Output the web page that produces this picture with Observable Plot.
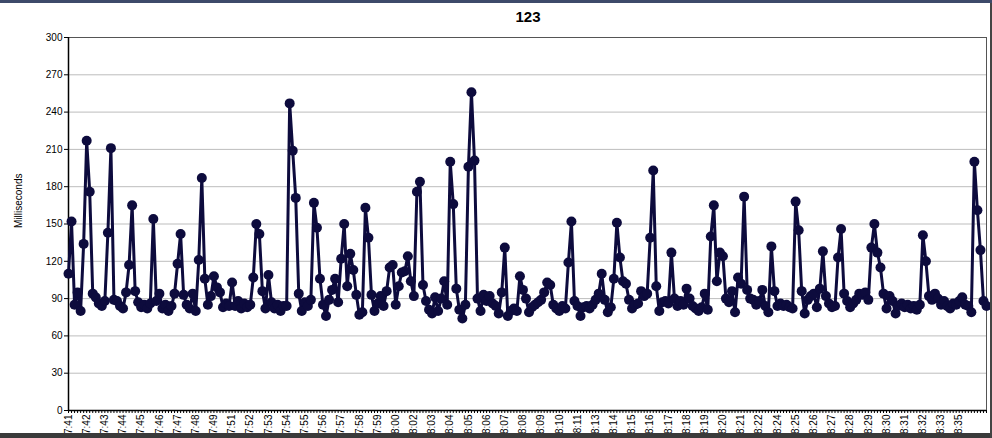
<!DOCTYPE html>
<html>
<head>
<meta charset="utf-8">
<script src="https://cdn.jsdelivr.net/npm/d3@7"></script>
<script src="https://cdn.jsdelivr.net/npm/@observablehq/plot@0.6"></script>
<style>
  html, body { margin: 0; padding: 0; background: #fff; width: 992px; height: 438px; overflow: hidden; position: relative; font-family: "Liberation Sans", Arial, sans-serif; }
  #topbar { position: absolute; left: 0; top: 0; width: 992px; height: 3px; background: #3d4a6a; }
  #title { position: absolute; top: 8px; left: 528px; transform: translateX(-50%); font-size: 15px; font-weight: bold; color: #000; }
  #chart { position: absolute; left: 0; top: 28px; }
  #bottombar { position: absolute; left: 0; bottom: 0; width: 992px; height: 5px; background: #3a3a3a; }
  #rightbar { position: absolute; right: 0; top: 3px; width: 2px; height: 435px; background: #444; }
</style>
</head>
<body>
<div id="topbar"></div>
<div id="title">123</div>
<div id="chart"></div>
<div id="bottombar"></div>
<div id="rightbar"></div>
<script>
const title = "123";
const yLabel = "Milliseconds";
const yTicks = [0, 30, 60, 90, 120, 150, 180, 210, 240, 270, 300];
const tickLabels = ["7:41","7:42","7:43","7:44","7:45","7:46","7:47","7:48","7:49","7:51",
  "7:52","7:53","7:54","7:55","7:56","7:57","7:58","7:59","8:00","8:02",
  "8:03","8:04","8:05","8:06","8:07","8:08","8:09","8:10","8:11","8:13",
  "8:14","8:15","8:16","8:17","8:18","8:19","8:20","8:21","8:22","8:24",
  "8:25","8:26","8:27","8:28","8:29","8:30","8:31","8:32","8:33","8:35"];
const labelEvery = 6;
const values = [
  110,152,85,95,80,134,217,176,94,91,
  86,84,88,143,211,89,88,84,82,95,
  117,165,96,87,83,85,82,86,154,88,
  94,82,85,80,84,94,118,142,93,85,
  82,94,80,121,187,106,85,92,108,99,
  95,83,86,84,103,84,88,82,86,83,
  85,107,150,142,96,82,109,87,82,85,
  80,84,84,247,209,171,94,80,87,84,
  89,167,147,106,85,76,89,97,106,87,
  122,150,100,126,113,93,77,79,163,139,
  93,80,86,92,84,96,115,117,85,100,
  111,112,124,104,92,176,184,101,88,81,
  78,91,80,90,104,85,200,166,98,81,
  74,85,196,256,201,90,80,93,88,92,
  86,84,78,95,131,76,80,82,80,108,
  97,90,79,83,85,87,89,95,103,101,
  85,82,80,84,82,119,152,88,84,76,
  83,84,82,85,89,94,110,89,79,83,
  106,151,123,104,102,89,82,85,86,96,
  92,94,139,193,100,80,87,88,86,127,
  90,84,88,85,98,90,84,82,80,83,
  94,81,140,165,104,127,124,90,87,96,
  79,107,102,172,97,90,89,85,88,97,
  84,79,132,96,84,86,84,85,83,82,
  168,145,96,78,89,92,94,83,98,128,
  92,86,83,84,123,146,94,88,83,86,
  89,94,93,95,89,131,150,127,115,94,
  82,92,88,78,84,86,83,85,82,84,
  81,85,141,120,92,89,94,90,85,88,
  84,82,86,85,88,91,85,84,79,200,
  161,129,88,84
];
const lineColor = "#0d0b3d";
const idx = values.map((_, i) => i);
const labelIdx = tickLabels.map((_, k) => k * labelEvery);

const chart = Plot.plot({
  width: 992,
  height: 410,
  marginLeft: 68,
  marginRight: 6,
  marginTop: 9,
  marginBottom: 28,
  style: { fontFamily: "'Liberation Sans', Arial, sans-serif", fontSize: "10px", color: "#000", background: "#fff" },
  x: { domain: [0, values.length - 1], axis: null },
  y: { domain: [0, 300], axis: null },
  marks: [
    Plot.gridY(yTicks, { stroke: "#bdbdbd", strokeOpacity: 1, strokeWidth: 1 }),
    Plot.frame({ stroke: "#555", strokeWidth: 1 }),
    Plot.ruleY([0], { stroke: "#000", strokeWidth: 1.5 }),
    Plot.ruleX([0], { stroke: "#000", strokeWidth: 1.5 }),
    Plot.axisY(yTicks, { tickSize: 4, tickPadding: 2, fontSize: 10, label: null, stroke: "#000" }),
    Plot.axisX(idx, { tickSize: 3, tickFormat: () => "", label: null, stroke: "#000" }),
    Plot.axisX(labelIdx, { tickSize: 0, tickPadding: 4, tickRotate: -90, fontSize: 10, label: null,
      tickFormat: (d) => tickLabels[d / labelEvery] }),
    Plot.text([yLabel], { frameAnchor: "left", dx: -50, dy: 4, rotate: -90, fontSize: 10, fill: "#000" }),
    Plot.line(values, { x: (d, i) => i, y: (d) => d, stroke: lineColor, strokeWidth: 3, strokeLinejoin: "round" }),
    Plot.dot(values, { x: (d, i) => i, y: (d) => d, r: 5, fill: lineColor, stroke: "none" })
  ]
});
document.getElementById("chart").appendChild(chart);
</script>
</body>
</html>
